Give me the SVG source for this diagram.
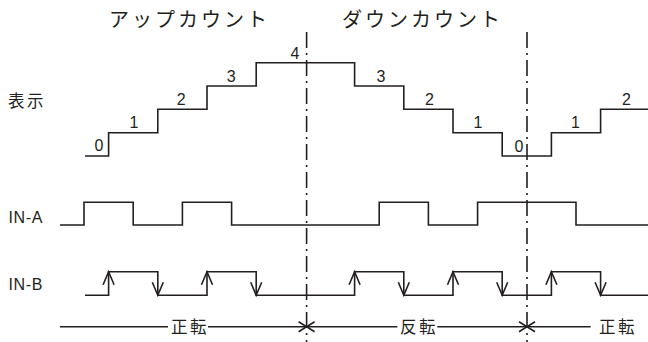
<svg xmlns="http://www.w3.org/2000/svg" xmlns:xlink="http://www.w3.org/1999/xlink" width="648" height="342" viewBox="0 0 648 342">
<style>
  .sig { fill: none; stroke: #231f20; stroke-width: 1.6; stroke-linejoin: miter; }
  .arr { fill: none; stroke: #231f20; stroke-width: 1.6; stroke-linejoin: miter; }
  .div { fill: none; stroke: #231f20; stroke-width: 1.6; stroke-dasharray: 16 5 2 5; }
  .jp { font-family: "Noto Sans CJK JP", "Noto Sans", sans-serif; fill: #231f20; }
  .title { font-size: 20px; letter-spacing: 3px; }
  .lbl { font-size: 16.5px; letter-spacing: 2.5px; }
  .num { font-family: "Liberation Sans", Arial, sans-serif; font-size: 16px; fill: #231f20; text-anchor: middle; }
  .sname { font-family: "Liberation Sans", Arial, sans-serif; font-size: 16px; letter-spacing: 0.6px; fill: #231f20; }
</style>
<defs>
  <path id="up" d="M-5.5,13 L0,0 L5.5,13"/>
  <path id="down" d="M-5.5,-13 L0,0 L5.5,-13"/>
</defs>
<rect width="648" height="342" fill="#ffffff"/>

<g id="titles">
  <text class="jp title" x="109" y="27">アップカウント</text>
  <text class="jp title" x="342" y="27">ダウンカウント</text>
</g>

<g id="display">
  <text class="jp lbl" x="8" y="107">表示</text>
  <path class="sig" d="M85,156 H108.6 V132.7 H157.8 V109.3 H207 V86 H256.2 V62.7 H354.6 V86 H403.8 V109.3 H453 V132.7 H502.2 V156 H551.4 V132.7 H600.6 V109.3 H648"/>
  <text class="num" x="99" y="151">0</text>
  <text class="num" x="134" y="128">1</text>
  <text class="num" x="181.3" y="105">2</text>
  <text class="num" x="231.3" y="81.7">3</text>
  <text class="num" x="295" y="59">4</text>
  <text class="num" x="381" y="81.7">3</text>
  <text class="num" x="429.5" y="105">2</text>
  <text class="num" x="478" y="128">1</text>
  <text class="num" x="519" y="151.5">0</text>
  <text class="num" x="575.5" y="128">1</text>
  <text class="num" x="626.5" y="105">2</text>
</g>

<g id="in-a">
  <text class="sname" x="8.5" y="223.3">IN-A</text>
  <path class="sig" d="M60,225 H84 V202.3 H133.2 V225 H182.4 V202.3 H231.6 V225 H379.2 V202.3 H428.4 V225 H477.6 V202.3 H576 V225 H648"/>
</g>

<g id="in-b">
  <text class="sname" x="8.5" y="290">IN-B</text>
  <path class="sig" d="M85,295.3 H108.6 V271.7 H157.8 V295.3 H207 V271.7 H256.2 V295.3 H354.6 V271.7 H403.8 V295.3 H453 V271.7 H502.2 V295.3 H551.4 V271.7 H600.6 V295.3 H648"/>
  <g class="arr">
    <use xlink:href="#up" x="108.6" y="271.7"/>
    <use xlink:href="#up" x="207" y="271.7"/>
    <use xlink:href="#up" x="354.6" y="271.7"/>
    <use xlink:href="#up" x="453" y="271.7"/>
    <use xlink:href="#up" x="551.4" y="271.7"/>
    <use xlink:href="#down" x="157.8" y="295.3"/>
    <use xlink:href="#down" x="256.2" y="295.3"/>
    <use xlink:href="#down" x="403.8" y="295.3"/>
    <use xlink:href="#down" x="502.2" y="295.3"/>
    <use xlink:href="#down" x="600.6" y="295.3"/>
  </g>
</g>

<g id="dividers">
  <line class="div" x1="306.6" y1="32" x2="306.6" y2="342"/>
  <line class="div" x1="527" y1="32" x2="527" y2="342"/>
</g>

<g id="direction">
  <path class="sig" d="M60,326.7 H168 M208,326.7 H306.6 H397.3 M437.3,326.7 H527 H590.7"/>
  <path class="arr" d="M298.6,321.7 L306.6,326.7 L298.6,331.7 M314.6,321.7 L306.6,326.7 L314.6,331.7"/>
  <path class="arr" d="M519,321.7 L527,326.7 L519,331.7 M535,321.7 L527,326.7 L535,331.7"/>
  <text class="jp lbl" x="171" y="333">正転</text>
  <text class="jp lbl" x="400" y="333">反転</text>
  <text class="jp lbl" x="599" y="333">正転</text>
</g>
</svg>
